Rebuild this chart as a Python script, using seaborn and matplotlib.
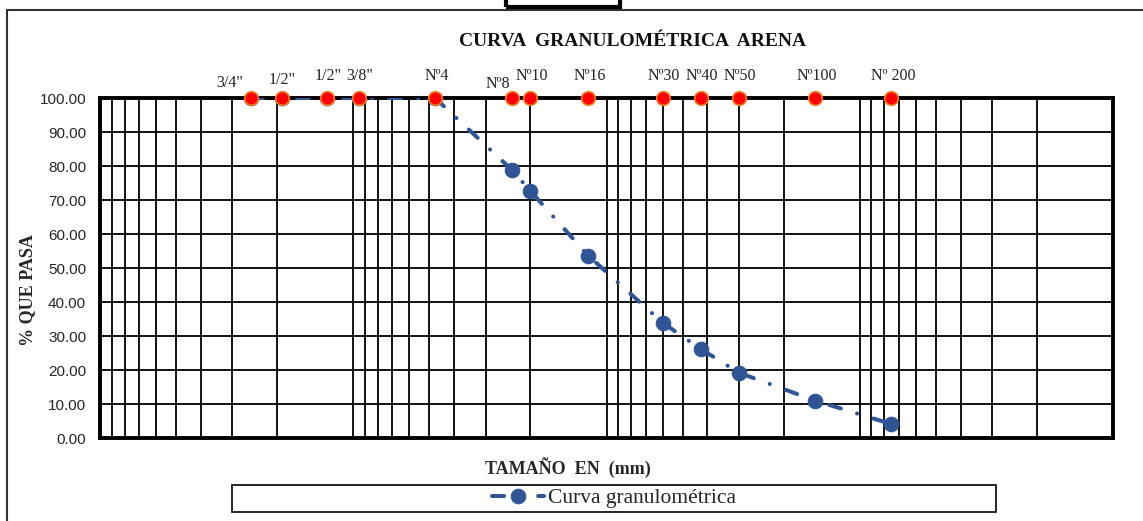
import numpy as np
import pandas as pd
import seaborn as sns
import matplotlib.pyplot as plt
from matplotlib.patches import Rectangle
from matplotlib.ticker import LogLocator, MultipleLocator, FormatStrFormatter, NullFormatter

# sieve data
sieve_labels = ['3/4"', '1/2"', '1/2"', '3/8"', "Nº4", "Nº8", "Nº10", "Nº16",
                "Nº30", "Nº40", "Nº50", "Nº100", "Nº 200"]
sieve_mm = [25.4, 19.05, 12.7, 9.525, 4.75, 2.36, 2.0, 1.18, 0.6, 0.425, 0.3, 0.15, 0.075]
pct_pass = [100.0, 100.0, 100.0, 100.0, 100.0, 78.8, 72.7, 53.6, 33.9, 26.2, 19.2, 11.0, 4.1]
ref_line = [100.0] * len(sieve_mm)

# label offsets (points) for the sieve names above the red markers
label_off = {0: (-15, -5), 1: (0, -3), 5: (-10, -6)}

sns.set_theme(style="white")
plt.rcParams["font.family"] = ["Liberation Serif", "DejaVu Serif"]

df = pd.DataFrame({"mm": sieve_mm, "pasa": pct_pass, "ref": ref_line})

fig = plt.figure(figsize=(11.43, 5.21), dpi=100)
ax = fig.add_axes([100 / 1143, 1 - 438 / 521, 1013 / 1143, 340 / 521])

blue = "#2F5597"
sns.lineplot(data=df, x="mm", y="pasa", ax=ax, sort=False, color=blue, lw=2.9,
             marker="o", markersize=10.5, markeredgecolor=blue, zorder=4,
             label="Curva granulométrica")
curve = ax.lines[-1]
curve.set_dashes([3.0, 4.2, 0.05, 4.2])
curve.set_dash_capstyle("round")

sns.scatterplot(data=df, x="mm", y="ref", ax=ax, color="#FF0000", s=95,
                edgecolor="#F07A1A", linewidth=1.2, zorder=6, clip_on=False,
                legend=False)

for i, (lab, xv) in enumerate(zip(sieve_labels, sieve_mm)):
    dx, dy = label_off.get(i, (1, 0))
    ax.annotate(lab, (xv, 100), xytext=(dx, 10 + dy), textcoords="offset points",
                ha="center", va="bottom", fontsize=11.5, color="#222222")

ax.set_xscale("log")
ax.set_xlim(100, 0.01)
ax.set_ylim(0, 100)
ax.xaxis.set_major_locator(LogLocator(base=10, subs=np.arange(1, 10), numticks=50))
ax.xaxis.set_major_formatter(NullFormatter())
ax.xaxis.set_minor_formatter(NullFormatter())
ax.yaxis.set_major_locator(MultipleLocator(10))
ax.yaxis.set_major_formatter(FormatStrFormatter("%.2f"))
ax.grid(True, which="major", axis="both", color="black", lw=1.3)
ax.tick_params(axis="both", which="both", length=0)
ax.tick_params(axis="y", pad=10, labelsize=11)
for t in ax.get_yticklabels():
    t.set_family(["Liberation Sans", "DejaVu Sans"])
for s in ax.spines.values():
    s.set_visible(True)
    s.set_color("black")
    s.set_linewidth(2.8)

ax.set_xlabel("TAMAÑO  EN  (mm)", fontsize=13, fontweight="bold")
ax.xaxis.set_label_coords((568 - 100) / 1013, -(457 - 438) / 340)
ax.set_ylabel("% QUE PASA", fontsize=13, fontweight="bold")
ax.yaxis.set_label_coords((28 - 100) / 1013, (438 - 290) / 340)
ax.yaxis.label.set_va("center")
fig.text(633 / 1143, 1 - 42 / 521, "CURVA  GRANULOMÉTRICA  ARENA", fontsize=14,
         fontweight="bold", ha="center", va="center", color="#111111")

# legend in a wide box at the bottom
handles, labels = ax.get_legend_handles_labels()
ax.get_legend().remove()
fig.patches.append(Rectangle((232 / 1143, 1 - 512 / 521), 764 / 1143, 27 / 521,
                             transform=fig.transFigure, fill=False, ec="black", lw=1.2))
fig.legend(handles, labels, loc="center", bbox_to_anchor=(614 / 1143, 1 - 498 / 521),
           frameon=False, fontsize=15.5, handlelength=2.4, handletextpad=0.2,
           borderaxespad=0)

# outer frame and small box at top
fig.patches.append(Rectangle((7 / 1143, -0.1), 1.2, 1.1 - 10 / 521,
                             transform=fig.transFigure, fill=False, ec="#333333", lw=1.5))
fig.patches.append(Rectangle((506 / 1143, 1 - 7 / 521), 114 / 1143, 0.05,
                             transform=fig.transFigure, fill=False, ec="black", lw=3))

fig.savefig("out.png", dpi=100)
